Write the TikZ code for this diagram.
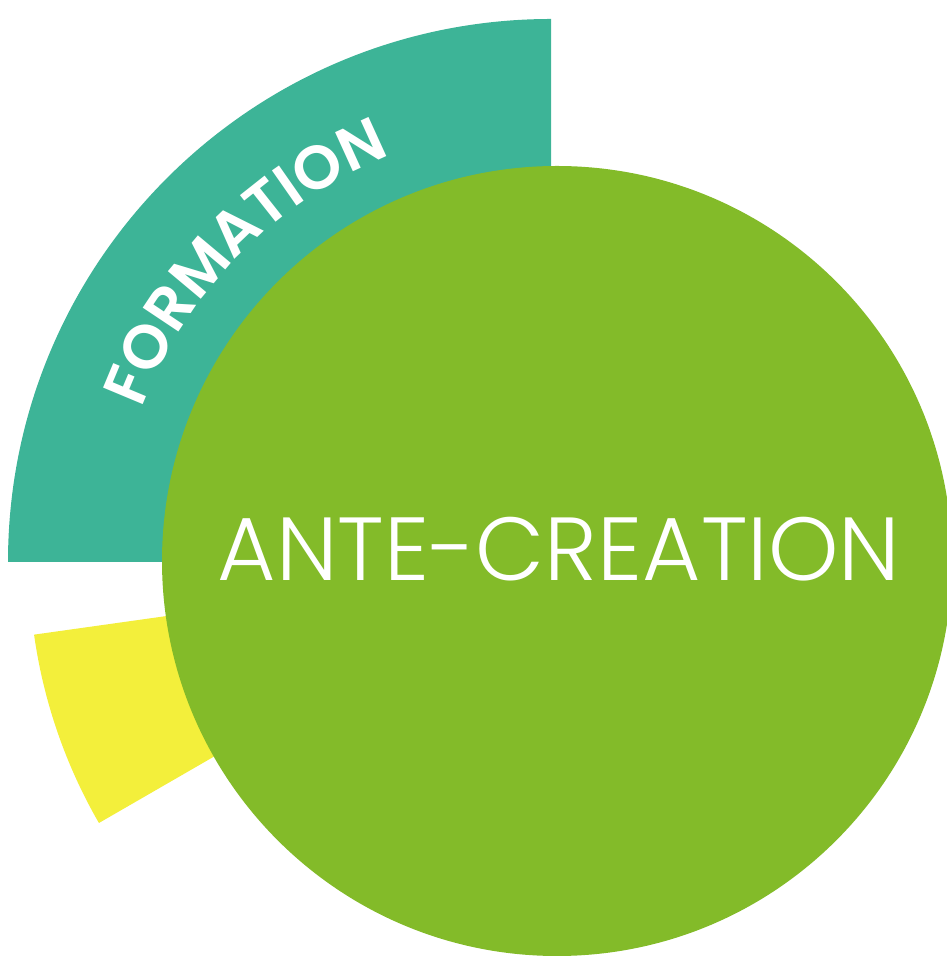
\documentclass[tikz,border=0pt]{standalone}
\usepackage{fontspec}
\newfontfamily\popfont{Poppins}[UprightFont=* Light, BoldFont=* SemiBold]
\usetikzlibrary{decorations.text}
\definecolor{formteal}{RGB}{61,180,151}
\definecolor{antegreen}{RGB}{131,187,41}
\definecolor{bandyellow}{RGB}{243,239,59}
\begin{document}
\begin{tikzpicture}[x=0.02cm,y=0.02cm]
\useasboundingbox (0,0) rectangle (946,956);
\coordinate (c) at (551,394);

\fill[formteal] (c) -- ++(180:543) arc[start angle=180,end angle=90,radius=543] -- cycle;
\fill[bandyellow] (c) -- ++(188:522) arc[start angle=188,end angle=210,radius=522] -- cycle;
\fill[antegreen] (557,395) circle[radius=395];

\path[decorate,decoration={text along path,text align=center,text color=white,
  text={|\popfont\bfseries\fontsize{35}{35}\selectfont|FORMATION}}]
  (c) ++(176:437) arc[start angle=176,end angle=95,radius=437];

\node[text=white,font=\popfont\fontsize{51}{51}\selectfont] (ante) at (559,407) {ANTE-CREATION};
\end{tikzpicture}
\end{document}
